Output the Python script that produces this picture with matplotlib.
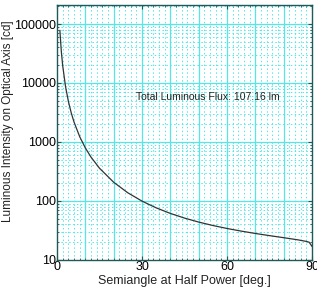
import numpy as np
from matplotlib import pyplot as plt
from matplotlib.ticker import MultipleLocator, LogLocator, NullFormatter

plt.rcParams['font.family'] = ['Liberation Sans', 'DejaVu Sans']

# semiangolo a meta' potenza [deg] e intensita' sull'asse [cd]
angle = [1, 1.5, 2, 3, 4, 5, 6, 8, 10, 12, 15, 20, 25, 30, 35, 40, 45, 50,
         55, 60, 65, 70, 75, 80, 85, 88, 89, 90]
intensity = [77630, 34510, 19420, 8637, 4864, 3118, 2169, 1226, 789.3, 552.1,
             358.0, 207.1, 137.2, 99.24, 76.32, 61.41, 51.17, 43.80, 38.32,
             34.11, 30.78, 28.07, 25.80, 23.81, 21.90, 20.58, 19.98, 17.05]

flux_text = "Total Luminous Flux: 107.16 lm"
x_ticks = [0, 30, 60, 90]
y_ticks = [10, 100, 1000, 10000, 100000]

grid_col = '#55e6e6'
frame_col = '#1f5a5a'

fig = plt.figure(figsize=(3.17, 2.94), dpi=100)
ax = fig.add_axes([0.18, 0.116, 0.804, 0.867])

ax.plot(angle, intensity, color='#333333', linewidth=0.9, zorder=3)
ax.set_yscale('log')
ax.set_xlim(0, 90)
ax.set_ylim(10, 2.1e5)

ax.set_xticks(x_ticks)
ax.set_xticklabels([str(t) for t in x_ticks])
ax.xaxis.set_minor_locator(MultipleLocator(2))
ax.set_yticks(y_ticks)
ax.set_yticklabels([str(t) for t in y_ticks])
ax.yaxis.set_minor_locator(LogLocator(base=10, subs=np.arange(2, 10)))
ax.yaxis.set_minor_formatter(NullFormatter())

# griglia principale ogni 10 gradi e ogni decade
for xv in range(10, 90, 10):
    ax.axvline(xv, color=grid_col, linewidth=0.9, zorder=1)
for yv in y_ticks[1:]:
    ax.axhline(yv, color=grid_col, linewidth=0.9, zorder=1)
ax.grid(which='minor', color=grid_col, linestyle=(0, (1.5, 2.5)), linewidth=0.7)

ax.tick_params(which='both', direction='in', top=True, right=True,
               color=frame_col, labelsize=9, pad=1)
ax.tick_params(which='major', length=3)
ax.tick_params(which='minor', length=1.5)
for s in ax.spines.values():
    s.set_color(frame_col)
    s.set_linewidth(1.0)

ax.text(28, 5800, flux_text, fontsize=7.5, va='center', ha='left', color='#222222')

ax.set_xlabel("Semiangle at Half Power [deg.]", fontsize=9, labelpad=1, color='#222222')
ax.set_ylabel("Luminous Intensity on Optical Axis [cd]", fontsize=8.5, color='#222222')
ax.yaxis.set_label_coords(-0.17, 0.543)

fig.savefig("out.png", dpi=100)
